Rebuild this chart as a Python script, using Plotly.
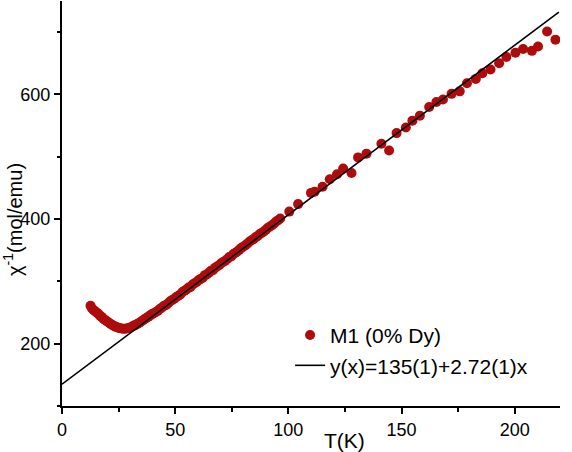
import plotly.graph_objects as go

# ---- data ----
T_data = [12.6, 13.2, 13.9, 14.6, 15.3, 16.0, 16.8, 17.5, 18.3, 19.0, 19.8, 20.6, 21.4, 22.2,
          23.0, 23.8, 24.6, 25.4, 26.2, 27.0, 27.8, 28.6, 29.4, 30.2, 31.0, 31.8, 32.6, 33.4,
          34.2, 35.0, 35.8, 36.6, 37.4, 38.2, 39.0, 39.8,
          40.6, 41.5, 42.4, 43.3, 44.2, 45.1, 46.0, 46.9, 47.8, 48.7, 49.6, 50.5, 51.4, 52.3,
          53.2, 54.1, 55.0, 55.9, 56.8, 57.7, 58.6, 59.5, 60.4, 61.3, 62.2, 63.1, 64.0, 64.9,
          65.8, 66.7, 67.6, 68.5, 69.4, 70.3, 71.2, 72.1, 73.0, 73.9, 74.8, 75.7, 76.6, 77.5,
          78.4, 79.3, 80.2, 81.1, 82.0, 82.9, 83.8, 84.7, 85.6, 86.5, 87.4, 88.3, 89.2, 90.1,
          91.0, 91.9, 92.8, 93.7, 94.6, 95.5, 96.4,
          100.4, 104.3, 110.0, 111.6, 115.1, 118.3, 121.5, 124.2, 127.9, 130.8, 134.5, 141.1,
          144.5, 147.8, 151.9, 154.8, 158.1, 162.2, 165.4, 168.3, 172.1, 175.7, 178.9, 182.8,
          185.7, 189.3, 193.1, 196.3, 200.3, 203.7, 207.6, 210.3, 214.3, 218.0]
chi_inv = [261, 257, 254, 252, 250, 248, 245, 243, 240, 238, 236, 234, 232, 230,
           228.5, 227, 226, 225, 224.5, 224, 224, 224.5, 225, 226, 227.5, 229, 230.5, 232,
           233.5, 235.5, 237.5, 239.5, 241.5, 243.5, 245.5, 247.5,
           249, 251, 253, 256, 258, 261, 262, 265, 268, 270, 272, 275, 277, 279,
           283, 285, 287, 290, 291, 295, 297, 299, 302, 304, 306, 310, 311, 314,
           317, 318, 322, 324, 326, 329, 331, 333, 336, 339, 340, 344, 346, 348,
           351, 354, 356, 358, 361, 364, 366, 368, 371, 373, 376, 378, 380, 383,
           386, 388, 390, 393, 396, 398, 401,
           412, 424, 442, 444, 452, 464, 472, 481, 474, 499, 505, 521,
           510, 538, 547, 558, 566, 580, 588, 592, 601, 605, 618, 625,
           634, 640, 650, 660, 667, 673, 670, 677, 701, 688]

fit_T = [0, 219.5]
fit_chi = [135, 732]

data_name = "M1 (0% Dy)"
fit_name = "y(x)=135(1)+2.72(1)x"
x_title = "T(K)"
y_title = "χ<sup>-1</sup>(mol/emu)"

FONT = "Liberation Sans, Arial, sans-serif"
RED = "#AE0C0C"

fig = go.Figure()
fig.add_trace(go.Scatter(x=T_data, y=chi_inv, mode="markers", name=data_name,
                         marker=dict(color=RED, size=10, line=dict(width=0))))
fig.add_trace(go.Scatter(x=fit_T, y=fit_chi, mode="lines", name=fit_name,
                         line=dict(color="black", width=1.6)))

fig.update_layout(
    width=572, height=452,
    margin=dict(l=62, r=12, t=1, b=46),
    paper_bgcolor="white", plot_bgcolor="white",
    font=dict(family=FONT, size=18, color="black"),
    showlegend=True,
    legend=dict(x=0.458, y=0.225, xanchor="left", yanchor="top",
                bgcolor="rgba(0,0,0,0)", font=dict(size=21, family=FONT),
                tracegroupgap=0, itemsizing="trace"),
    xaxis=dict(range=[0, 220], dtick=50, tick0=0, showgrid=False, zeroline=False,
               showline=True, linecolor="black", linewidth=2,
               ticks="outside", ticklen=6, tickwidth=1.5, tickcolor="black",
               minor=dict(dtick=25, ticks="outside", ticklen=4, tickcolor="black", tickwidth=1.5),
               tickfont=dict(size=18)),
    yaxis=dict(range=[100, 750], dtick=200, tick0=0, showgrid=False, zeroline=False,
               showline=True, linecolor="black", linewidth=2,
               ticks="outside", ticklen=6, tickwidth=1.5, tickcolor="black",
               minor=dict(dtick=100, ticks="outside", ticklen=3, tickcolor="black", tickwidth=1.5),
               tickfont=dict(size=18)),
    annotations=[
        dict(text=y_title, xref="paper", yref="paper",
             x=-0.098, y=0.46, xanchor="center", yanchor="middle",
             textangle=-90, showarrow=False, font=dict(size=20, family=FONT)),
        dict(text=x_title, xref="paper", yref="paper",
             x=0.568, y=-0.084, xanchor="center", yanchor="middle",
             showarrow=False, font=dict(size=21, family=FONT)),
    ],
)

fig.write_html("out.html")
